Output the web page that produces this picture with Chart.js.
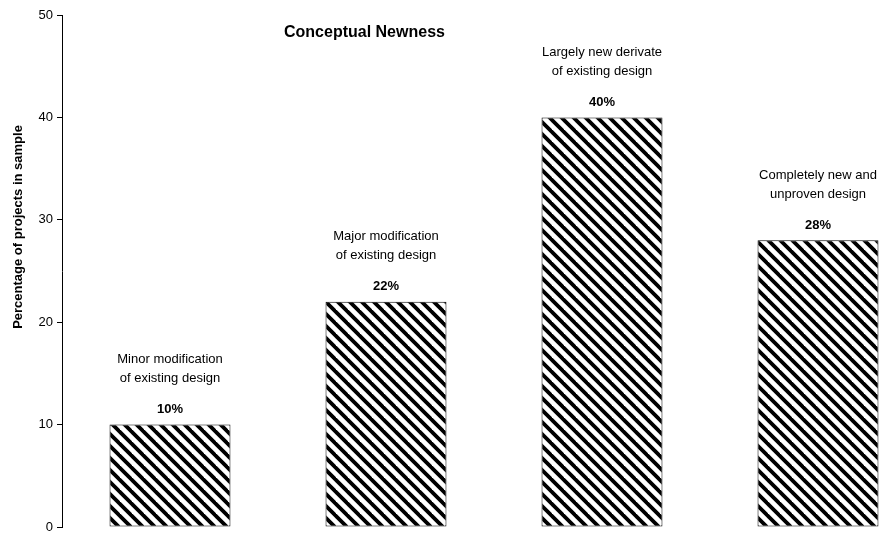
<!DOCTYPE html>
<html>
<head>
<meta charset="utf-8">
<script src="https://cdn.jsdelivr.net/npm/chart.js@4/dist/chart.umd.min.js"></script>
<style>
  html, body { margin: 0; padding: 0; background: #fff; overflow: hidden; width: 887px; height: 534px; }
  canvas { display: block; }
</style>
</head>
<body>
<canvas id="c" width="930" height="534"></canvas>
<script>
// ---- data ----
const categories = [
  ["Minor modification", "of existing design"],
  ["Major modification", "of existing design"],
  ["Largely new derivate", "of existing design"],
  ["Completely new and", "unproven design"]
];
const values = [10, 22, 40, 28];
const chartTitle = "Conceptual Newness";
const yAxisTitle = "Percentage of projects in sample";
const yMin = 0, yMax = 50, yStep = 10;

const FONT = "'Liberation Sans', Arial, Helvetica, sans-serif";

// hatch pattern "\\"
function makeHatch() {
  const s = 12;
  const p = document.createElement('canvas');
  p.width = s; p.height = s;
  const g = p.getContext('2d');
  g.fillStyle = '#fff';
  g.fillRect(0, 0, s, s);
  g.strokeStyle = '#000';
  g.lineWidth = 3.8;
  g.lineCap = 'square';
  for (let k = -1; k <= 1; k++) {
    g.beginPath();
    g.moveTo(k * s - 2, -2);
    g.lineTo(k * s + s + 2, s + 2);
    g.stroke();
  }
  return g.createPattern(p, 'repeat');
}

const ctx = document.getElementById('c').getContext('2d');
const hatch = makeHatch();

const labelPlugin = {
  id: 'labels',
  afterDatasetsDraw(chart) {
    const c = chart.ctx;
    const meta = chart.getDatasetMeta(0);
    c.save();
    c.fillStyle = '#000';
    c.textAlign = 'center';
    c.textBaseline = 'middle';
    meta.data.forEach((bar, i) => {
      c.font = 'bold 13px ' + FONT;
      c.fillText(values[i] + '%', bar.x, bar.y - 15);
      c.font = '13px ' + FONT;
      c.fillText(categories[i][0], bar.x, bar.y - 65);
      c.fillText(categories[i][1], bar.x, bar.y - 46);
    });
    c.restore();
  },
  afterDraw(chart) {
    const c = chart.ctx;
    const a = chart.chartArea;
    c.save();
    c.fillStyle = '#000';
    c.font = 'bold 16px ' + FONT;
    c.textAlign = 'left';
    c.textBaseline = 'alphabetic';
    c.fillText(chartTitle, a.left + 222, a.top + 22);
    c.translate(18, 227);
    c.rotate(-Math.PI / 2);
    c.font = 'bold 13px ' + FONT;
    c.textAlign = 'center';
    c.textBaseline = 'middle';
    c.fillText(yAxisTitle, 0, 0);
    c.restore();
  }
};

new Chart(ctx, {
  type: 'bar',
  data: {
    labels: categories,
    datasets: [{
      data: values,
      backgroundColor: hatch,
      borderColor: '#000',
      borderWidth: 1,
      borderSkipped: false,
      categoryPercentage: 1.0,
      barPercentage: 0.56
    }]
  },
  options: {
    responsive: false,
    animation: false,
    devicePixelRatio: 1,
    layout: { padding: { top: 15, bottom: 7, left: 0, right: 4 } },
    plugins: { legend: { display: false }, title: { display: false }, tooltip: { enabled: false } },
    scales: {
      x: { display: false },
      y: {
        min: yMin, max: yMax,
        afterFit(scale) { scale.width = 62; scale.paddingTop = 0; scale.paddingBottom = 0; },
        ticks: { stepSize: yStep, color: '#000', padding: 4, font: { family: FONT, size: 13 } },
        grid: { display: true, drawOnChartArea: false, drawTicks: true, tickLength: 5, color: '#000' },
        border: { display: true, color: '#000', width: 1 },
        title: { display: false }
      }
    }
  },
  plugins: [labelPlugin]
});
</script>
</body>
</html>
